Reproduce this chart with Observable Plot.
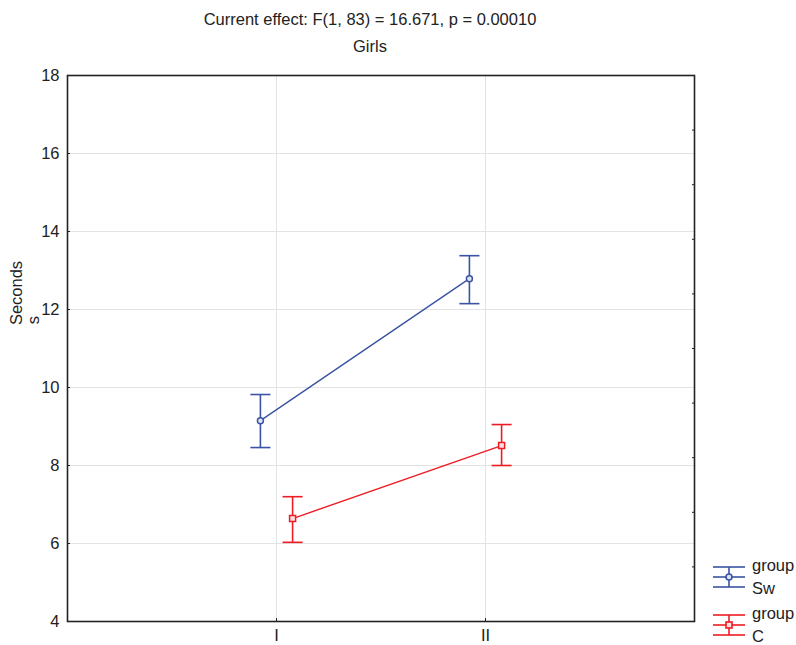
<!DOCTYPE html>
<html>
<head>
<meta charset="utf-8">
<script src="https://cdn.jsdelivr.net/npm/d3@7"></script>
<script src="https://cdn.jsdelivr.net/npm/@observablehq/plot@0.6"></script>
<style>
  body { margin: 0; background: #fff; }
  #chart { position: relative; width: 796px; height: 645px; }
  svg { font-family: "Liberation Sans", Arial, sans-serif; }
</style>
</head>
<body>
<div id="chart"></div>
<script>
// ---- data ----
const conditions = ["I", "II"];
const groups = ["Sw", "C"];
const swMean = [9.15, 12.79];
const swLow = [8.46, 12.15];
const swHigh = [9.82, 13.38];
const cMean = [6.64, 8.51];
const cLow = [6.03, 8.0];
const cHigh = [7.2, 9.05];
const yTicks = [4, 6, 8, 10, 12, 14, 16, 18];
const rightTicks = [16.6, 15.2, 13.8, 12.4, 11.0, 9.6, 8.2, 6.8, 5.4];
const titleText = "Current effect: F(1, 83) = 16.671, p = 0.00010";
const subtitleText = "Girls";
const yLabel = "Seconds";
const yUnit = "s";

// ---- styling ----
const FS = 16.5;
const colors = {Sw: "#3a53a4", C: "#ed1c24"};
const offsets = {Sw: -0.077, C: 0.077};
const capHalf = 0.048;

const rows = [];
conditions.forEach((c, i) => {
  rows.push({group: "Sw", cond: c, x: i + 1 + offsets.Sw, mean: swMean[i], lo: swLow[i], hi: swHigh[i]});
  rows.push({group: "C", cond: c, x: i + 1 + offsets.C, mean: cMean[i], lo: cLow[i], hi: cHigh[i]});
});

const caps = rows.flatMap(d => [{...d, v: d.lo}, {...d, v: d.hi}]);

const plot = Plot.plot({
  width: 796,
  height: 645,
  marginTop: 75,
  marginBottom: 24,
  marginLeft: 67,
  marginRight: 102,
  style: {fontFamily: "'Liberation Sans', Arial, sans-serif", fontSize: FS + "px", color: "#222"},
  x: {domain: [0, 3], axis: null},
  y: {domain: [4, 18], axis: null},
  marks: [
    Plot.ruleY(yTicks.filter(t => t > 4 && t < 18), {stroke: "#e3e3e3", strokeWidth: 1}),
    Plot.ruleX([1, 2], {stroke: "#e3e3e3", strokeWidth: 1}),
    Plot.axisY({ticks: yTicks, tickSize: -3, tickPadding: 11, stroke: "#222", fontSize: FS, label: null}),
    Plot.axisY({anchor: "right", ticks: rightTicks, tickSize: -3, tickFormat: () => "", stroke: "#222", label: null}),
    Plot.axisX({ticks: [1, 2], tickFormat: d => conditions[d - 1], tickSize: -3, tickPadding: 11, stroke: "#222", fontSize: FS, label: null}),
    Plot.frame({stroke: "#222", strokeWidth: 1.6}),
    Plot.line(rows, {x: "x", y: "mean", z: "group", stroke: d => colors[d.group], strokeWidth: 1.4}),
    Plot.ruleX(rows, {x: "x", y1: "lo", y2: "hi", stroke: d => colors[d.group], strokeWidth: 1.6}),
    Plot.link(caps, {x1: d => d.x - capHalf, x2: d => d.x + capHalf, y1: "v", y2: "v", stroke: d => colors[d.group], strokeWidth: 1.6}),
    Plot.dot(rows.filter(d => d.group === "Sw"), {x: "x", y: "mean", r: 3, symbol: "circle", stroke: colors.Sw, fill: "#dfe4f2", strokeWidth: 1.5}),
    Plot.dot(rows.filter(d => d.group === "C"), {x: "x", y: "mean", r: 3.4, symbol: "square", stroke: colors.C, fill: "#fbe0e0", strokeWidth: 1.5})
  ]
});

document.getElementById("chart").appendChild(plot);

const svg = d3.select(plot);
const txt = (x, y, s, anchor) => svg.append("text").attr("x", x).attr("y", y)
  .attr("text-anchor", anchor).attr("font-size", FS).attr("fill", "#222").text(s);
txt(370, 25, titleText, "middle");
txt(370, 52, subtitleText, "middle");
svg.append("text").attr("transform", "translate(22,293) rotate(-90)").attr("text-anchor", "middle")
  .attr("font-size", FS).attr("fill", "#222").text(yLabel);
svg.append("text").attr("transform", "translate(39,320) rotate(-90)").attr("text-anchor", "middle")
  .attr("font-size", FS).attr("fill", "#222").text(yUnit);

// legend
const leg = [{g: "Sw", y: 577, sym: "circle"}, {g: "C", y: 625, sym: "square"}];
leg.forEach(({g, y, sym}) => {
  const grp = svg.append("g").attr("stroke", colors[g]).attr("stroke-width", 1.6);
  [-10, 0, 10].forEach(dy => grp.append("line").attr("x1", 713).attr("x2", 745).attr("y1", y + dy).attr("y2", y + dy));
  grp.append("line").attr("x1", 729).attr("x2", 729).attr("y1", y - 10).attr("y2", y + 10);
  if (sym === "circle") grp.append("circle").attr("cx", 729).attr("cy", y).attr("r", 3).attr("fill", "#dfe4f2");
  else grp.append("rect").attr("x", 726).attr("y", y - 3).attr("width", 6).attr("height", 6).attr("fill", "#fbe0e0");
  txt(752, y - 6, "group", "start");
  txt(752, y + 17, g, "start");
});
</script>
</body>
</html>
